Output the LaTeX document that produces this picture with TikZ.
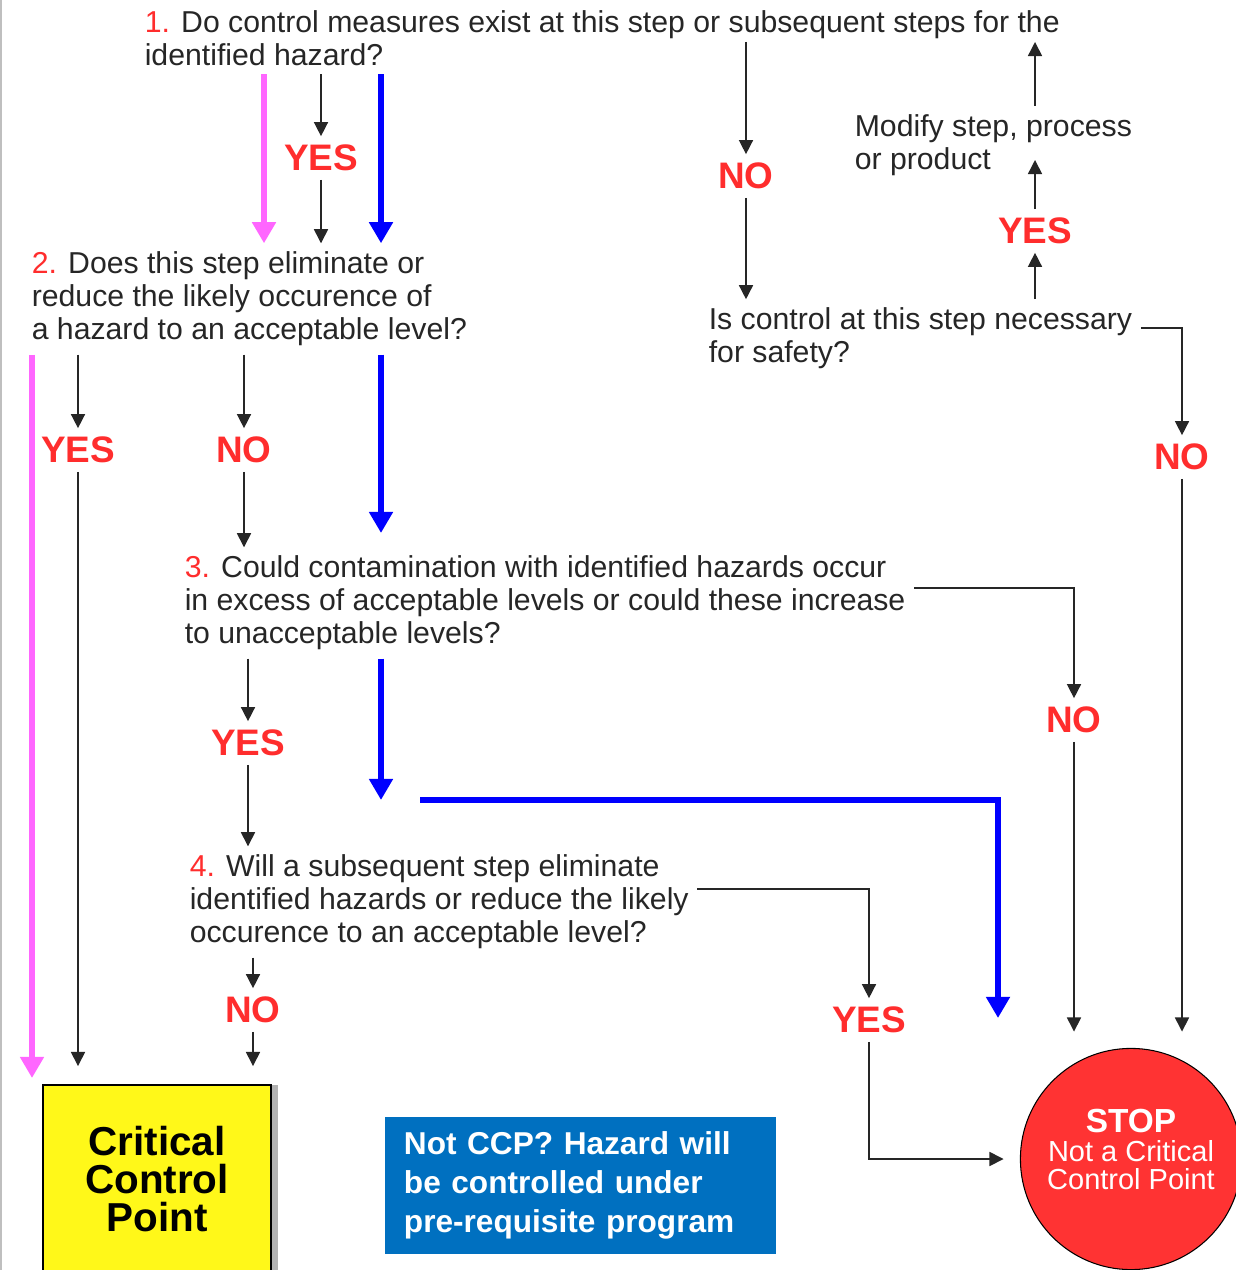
\documentclass[tikz,border=0pt]{standalone}
\usepackage{fontspec}
\setmainfont{Liberation Sans}
\usepackage{xcolor}
\usetikzlibrary{arrows.meta, positioning, shadows}

\definecolor{hzred}{RGB}{255,45,45}
\definecolor{trackpink}{RGB}{255,102,255}
\definecolor{trackblue}{RGB}{0,0,255}
\definecolor{boxblue}{RGB}{0,112,192}
\definecolor{ccpyellow}{RGB}{255,248,25}
\definecolor{stopred}{RGB}{255,51,51}

\begin{document}
\begin{tikzpicture}[x=0.02cm, y=-0.02cm,
		quest/.style={anchor=west, align=left, inner sep=0pt, outer sep=5pt, text=black!85, font=\fontsize{17.2}{18.7}\selectfont},
		ans/.style={inner sep=0pt, outer sep=5pt, text=hzred, font=\fontsize{21}{24}\selectfont\bfseries},
		arr/.style={-{Triangle[width=8pt,length=8pt]}, line width=0.85pt, black!85},
		track/.style={-{Triangle[width=13pt,length=12pt]}, line width=3.4pt}]
			\clip (0,0) rectangle (1236,1270);
			\fill [white] (0,0) rectangle (1236,1270);
			\draw [gray!50, line width=1pt] (1,0) -- (1,1270);
			% questions
			\node [quest] (q1) at (136,38) {\textcolor{hzred}{1.} Do control measures exist at this step or subsequent steps for the\\identified hazard?};
			\node [quest] (q2) at (23,299) {\textcolor{hzred}{2.} Does this step eliminate or\\reduce the likely occurence of\\a hazard to an acceptable level?};
			\node [quest] (safe) at (700,338.5) {Is control at this step necessary\\for safety?};
			\node [quest] (modify) at (846,145) {Modify step, process\\or product};
			\node [quest] (q3) at (176,603) {\textcolor{hzred}{3.} Could contamination with identified hazards occur\\in excess of acceptable levels or could these increase\\to unacceptable levels?};
			\node [quest] (q4) at (181,902) {\textcolor{hzred}{4.} Will a subsequent step eliminate\\identified hazards or reduce the likely\\occurence to an acceptable level?};
			% answers
			\node [ans] (y1) at (321,158) {YES};
			\node [ans] (n1) at (746,176) {NO};
			\node [ans] (y2) at (1035,231) {YES};
			\node [ans] (y3) at (78,450) {YES};
			\node [ans] (n2) at (244,450) {NO};
			\node [ans] (n3) at (1182,457) {NO};
			\node [ans] (n4) at (1074,720) {NO};
			\node [ans] (y4) at (248,743) {YES};
			\node [ans] (n5) at (253,1010) {NO};
			\node [ans] (y5) at (869,1020) {YES};
			% outcomes
			\node [draw=black, line width=1pt, fill=ccpyellow, minimum width=130pt, minimum height=106.6pt, inner sep=0pt, outer sep=11pt, align=center, font=\fontsize{23}{21.5}\selectfont\bfseries, drop shadow={shadow xshift=4pt, shadow yshift=0pt, opacity=0.6}] (ccp) at (157,1179) {Critical\\Control\\Point};
			\node [fill=boxblue, minimum width=222.8pt, minimum height=77.7pt, text width=201pt, inner xsep=10.9pt, align=left, text=white, font=\fontsize{18}{22}\selectfont\bfseries] (prereq) at (580.5,1185.5) {Not CCP? Hazard will\\be controlled under\\pre-requisite program};
			\node [circle, draw=black, line width=0.6pt, fill=stopred, minimum size=125.9pt, inner sep=0pt, outer sep=9.6pt, align=center, text=white, font=\fontsize{16.5}{16}\selectfont] (stop) at (1131,1159) {{\fontsize{19}{16}\selectfont\bfseries STOP}\\Not a Critical\\Control Point\\[-5pt]};
			% connectors
			\coordinate (q1no) at (746,42);
			\coordinate (modin) at (1035,160);
			\draw [arr] (y1 |- q1.south) -- (y1);
			\draw [arr] (y1) -- (y1 |- q2.north);
			\draw [arr] (q1no) -- (n1);
			\draw [arr] (n1) -- (n1 |- safe.north);
			\draw [arr] (y2 |- safe.north) -- (y2);
			\draw [arr] (y2) -- (modin);
			\draw [arr] (y2 |- modify.north) -- (q1no -| y2);
			\draw [arr] ([yshift=6pt]safe.east) -| (n3);
			\draw [arr] (n3) -- (n3 |- stop.north);
			\draw [arr] (y3 |- q2.south) -- (y3);
			\draw [arr] (y3) -- (y3 |- ccp.north);
			\draw [arr] (n2 |- q2.south) -- (n2);
			\draw [arr] (n2) -- (n2 |- q3.north);
			\draw [arr] ([yshift=8.5pt]q3.east) -| (n4);
			\draw [arr] (n4) -- (n4 |- stop.north);
			\draw [arr] (y4 |- q3.south) -- (y4);
			\draw [arr] (y4) -- (y4 |- q4.north);
			\draw [arr] ([yshift=7.4pt]q4.east) -| (y5);
			\draw [arr] (y5) |- (stop);
			\draw [arr] (n5 |- q4.south) -- (n5);
			\draw [arr] (n5) -- (n5 |- ccp.north);
			% coloured tracks
			\draw [track, trackpink] (264,0 |- q1.south) -- (264,0 |- q2.north);
			\draw [track, trackblue] (381,0 |- q1.south) -- (381,0 |- q2.north);
			\draw [track, trackpink] (32,0 |- q2.south) -- (32,1078);
			\draw [track, trackblue] (381,0 |- q2.south) -- (381,533);
			\draw [track, trackblue] (381,0 |- q3.south) -- (381,800);
			\draw [track, trackblue] (420,800) -| (998,1018);
\end{tikzpicture}
\end{document}
